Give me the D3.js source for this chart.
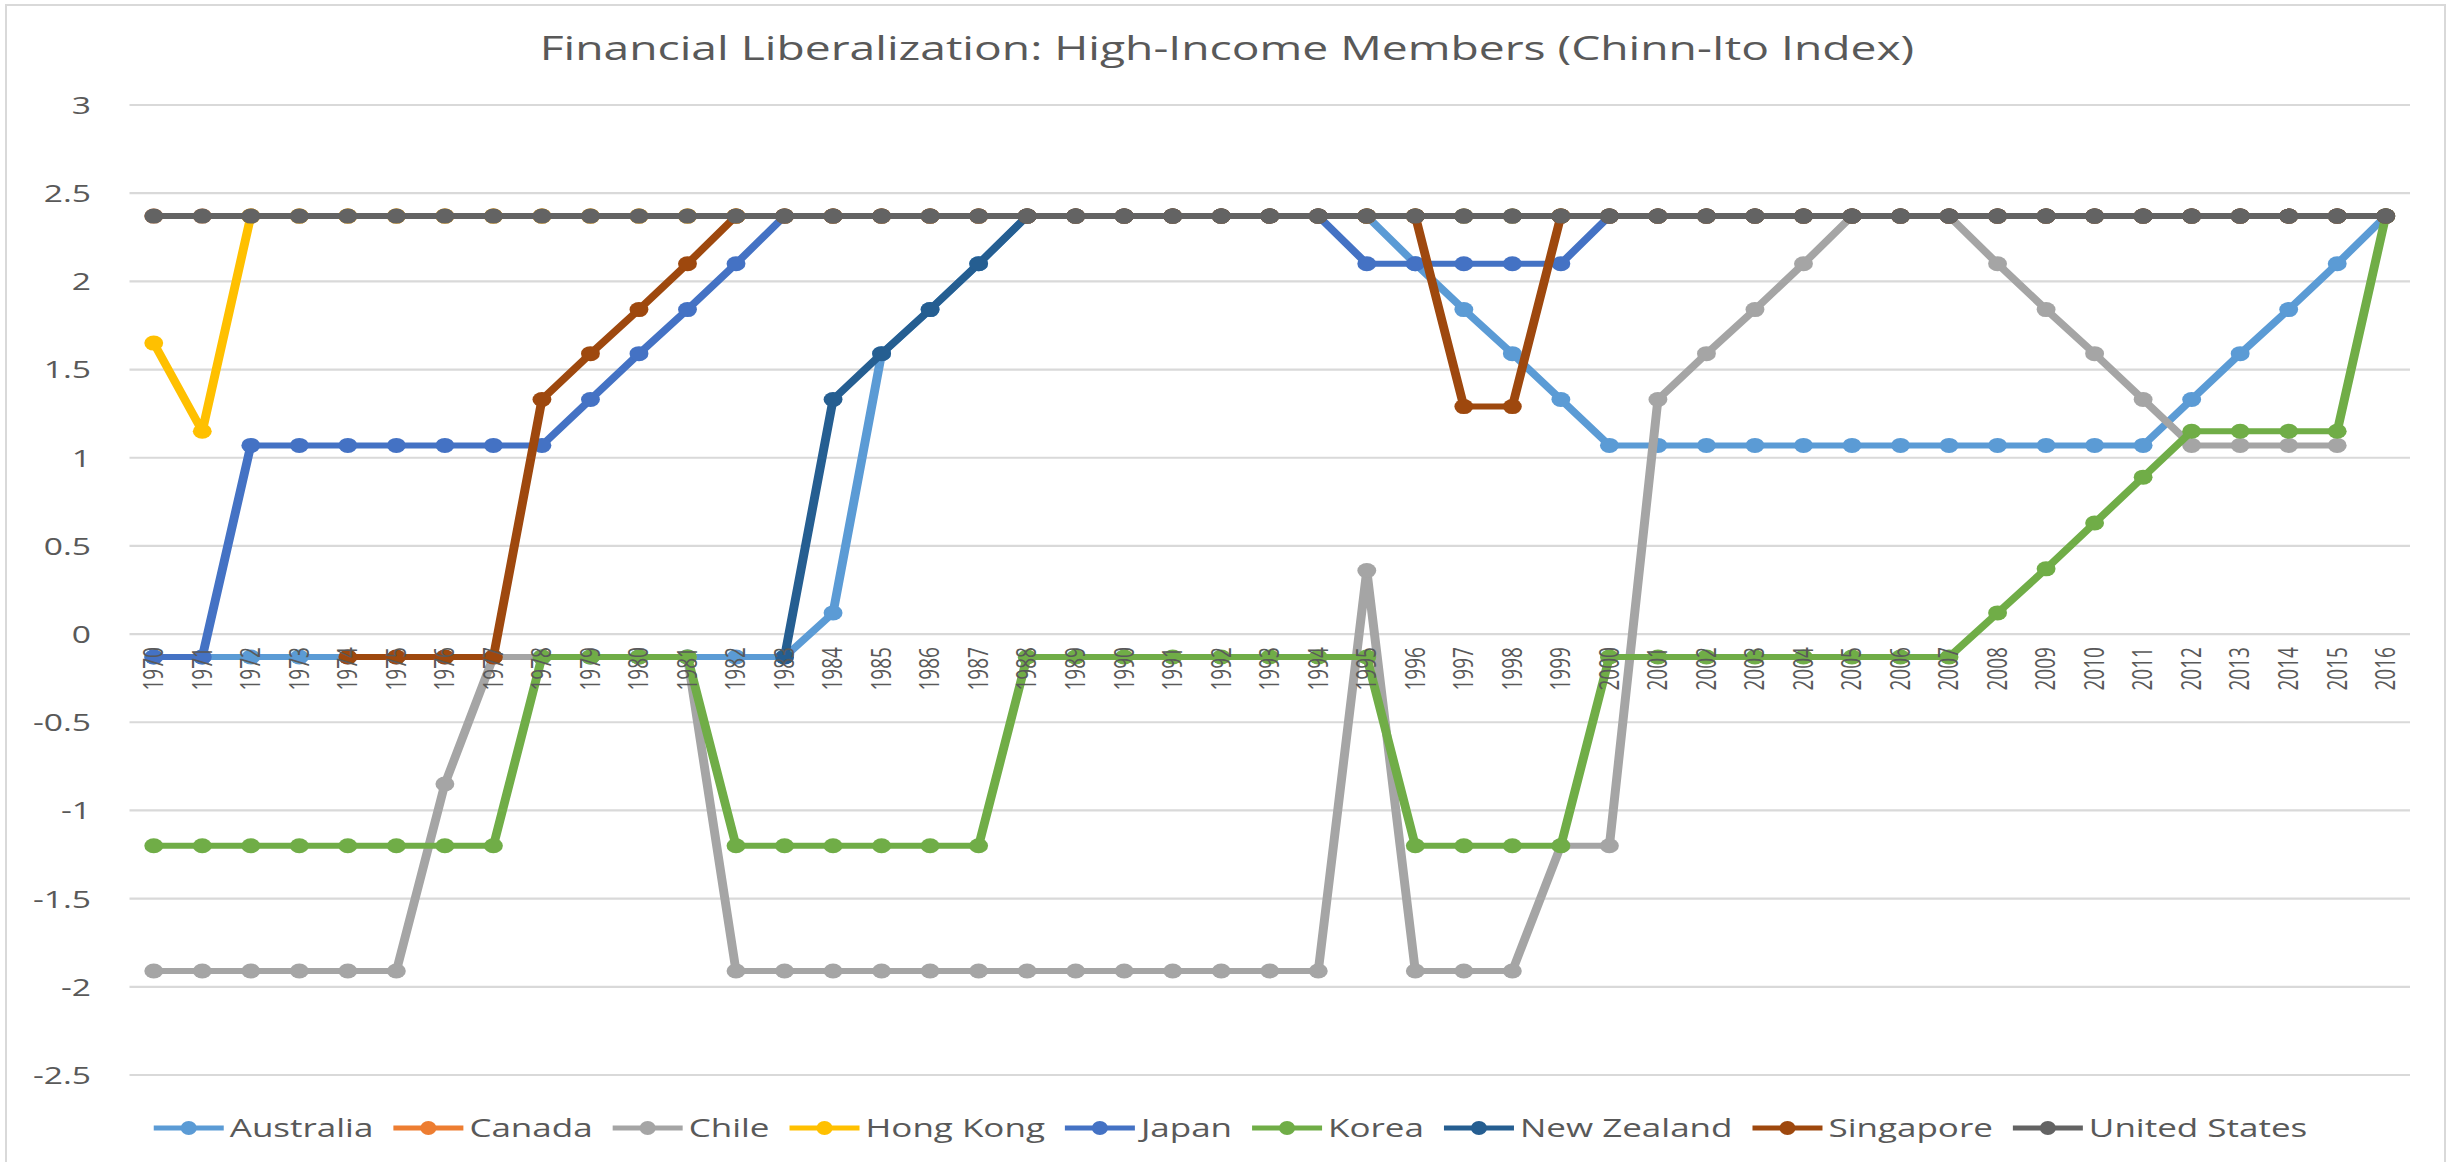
<!DOCTYPE html>
<html><head><meta charset="utf-8">
<script src="https://cdn.jsdelivr.net/npm/d3@7"></script>
<style>
body{margin:0;background:#fff}
svg{display:block}
text{font-family:"Open Sans",sans-serif;fill:#595959}
</style>
</head><body>
<svg id="chart" width="2460" height="1162"></svg>
<script>
// ---------------- DATA ----------------
const title = "Financial Liberalization: High-Income Members (Chinn-Ito Index)";
const years = ["1970","1971","1972","1973","1974","1975","1976","1977","1978","1979",
  "1980","1981","1982","1983","1984","1985","1986","1987","1988","1989",
  "1990","1991","1992","1993","1994","1995","1996","1997","1998","1999",
  "2000","2001","2002","2003","2004","2005","2006","2007","2008","2009",
  "2010","2011","2012","2013","2014","2015","2016"];
const yTicks = [3, 2.5, 2, 1.5, 1, 0.5, 0, -0.5, -1, -1.5, -2, -2.5];
const countries = ["Australia","Canada","Chile","Hong Kong","Japan","Korea","New Zealand","Singapore","United States"];
const colors = ["#5B9BD5","#ED7D31","#A5A5A5","#FFC000","#4472C4","#70AD47","#255E91","#9E480E","#636363"];

const australia = [-0.13,-0.13,-0.13,-0.13,-0.13,-0.13,-0.13,-0.13,-0.13,-0.13,
  -0.13,-0.13,-0.13,-0.13,0.12,1.59,1.84,2.10,2.37,2.37,
  2.37,2.37,2.37,2.37,2.37,2.37,2.10,1.84,1.59,1.33,
  1.07,1.07,1.07,1.07,1.07,1.07,1.07,1.07,1.07,1.07,
  1.07,1.07,1.33,1.59,1.84,2.10,2.37];
const canada = [2.37,2.37,2.37,2.37,2.37,2.37,2.37,2.37,2.37,2.37,
  2.37,2.37,2.37,2.37,2.37,2.37,2.37,2.37,2.37,2.37,
  2.37,2.37,2.37,2.37,2.37,2.37,2.37,2.37,2.37,2.37,
  2.37,2.37,2.37,2.37,2.37,2.37,2.37,2.37,2.37,2.37,
  2.37,2.37,2.37,2.37,2.37,2.37,2.37];
const chile = [-1.91,-1.91,-1.91,-1.91,-1.91,-1.91,-0.85,-0.13,-0.13,-0.13,
  -0.13,-0.13,-1.91,-1.91,-1.91,-1.91,-1.91,-1.91,-1.91,-1.91,
  -1.91,-1.91,-1.91,-1.91,-1.91,0.36,-1.91,-1.91,-1.91,-1.20,
  -1.20,1.33,1.59,1.84,2.10,2.37,2.37,2.37,2.10,1.84,
  1.59,1.33,1.07,1.07,1.07,1.07,null];
const hongKong = [1.65,1.15,2.37,2.37,2.37,2.37,2.37,2.37,2.37,2.37,
  2.37,2.37,2.37,2.37,2.37,2.37,2.37,2.37,2.37,2.37,
  2.37,2.37,2.37,2.37,2.37,2.37,2.37,2.37,2.37,2.37,
  2.37,2.37,2.37,2.37,2.37,2.37,2.37,2.37,2.37,2.37,
  2.37,2.37,2.37,2.37,2.37,2.37,2.37];
const japan = [-0.13,-0.13,1.07,1.07,1.07,1.07,1.07,1.07,1.07,1.33,
  1.59,1.84,2.10,2.37,2.37,2.37,2.37,2.37,2.37,2.37,
  2.37,2.37,2.37,2.37,2.37,2.10,2.10,2.10,2.10,2.10,
  2.37,2.37,2.37,2.37,2.37,2.37,2.37,2.37,2.37,2.37,
  2.37,2.37,2.37,2.37,2.37,2.37,2.37];
const korea = [-1.20,-1.20,-1.20,-1.20,-1.20,-1.20,-1.20,-1.20,-0.13,-0.13,
  -0.13,-0.13,-1.20,-1.20,-1.20,-1.20,-1.20,-1.20,-0.13,-0.13,
  -0.13,-0.13,-0.13,-0.13,-0.13,-0.13,-1.20,-1.20,-1.20,-1.20,
  -0.13,-0.13,-0.13,-0.13,-0.13,-0.13,-0.13,-0.13,0.12,0.37,
  0.63,0.89,1.15,1.15,1.15,1.15,2.37];
const newZealand = [null,null,null,null,null,null,null,null,null,null,
  null,null,null,-0.13,1.33,1.59,1.84,2.10,2.37,2.37,
  2.37,2.37,2.37,2.37,2.37,2.37,2.37,2.37,2.37,2.37,
  2.37,2.37,2.37,2.37,2.37,2.37,2.37,2.37,2.37,2.37,
  2.37,2.37,2.37,2.37,2.37,2.37,2.37];
const singapore = [null,null,null,null,-0.13,-0.13,-0.13,-0.13,1.33,1.59,
  1.84,2.10,2.37,2.37,2.37,2.37,2.37,2.37,2.37,2.37,
  2.37,2.37,2.37,2.37,2.37,2.37,2.37,1.29,1.29,2.37,
  2.37,2.37,2.37,2.37,2.37,2.37,2.37,2.37,2.37,2.37,
  2.37,2.37,2.37,2.37,2.37,2.37,2.37];
const unitedStates = [2.37,2.37,2.37,2.37,2.37,2.37,2.37,2.37,2.37,2.37,
  2.37,2.37,2.37,2.37,2.37,2.37,2.37,2.37,2.37,2.37,
  2.37,2.37,2.37,2.37,2.37,2.37,2.37,2.37,2.37,2.37,
  2.37,2.37,2.37,2.37,2.37,2.37,2.37,2.37,2.37,2.37,
  2.37,2.37,2.37,2.37,2.37,2.37,2.37];
const seriesValues = [australia, canada, chile, hongKong, japan, korea, newZealand, singapore, unitedStates];

// ---------------- LAYOUT ----------------
const plot = {left: 129.5, right: 2410, top: 105, bottom: 1075};
const SX = 1.5;          // horizontal stretch of the original picture (marks)
const TK = 1.4;          // horizontal stretch of text
const svg = d3.select("#chart");

svg.append("rect").attr("x", 6).attr("y", 5).attr("width", 2439).attr("height", 1180)
  .attr("fill", "#fff").attr("stroke", "#D9D9D9").attr("stroke-width", 2);

const x = d3.scaleBand().domain(years).range([plot.left, plot.right]).padding(0);
const xc = d => x(d) + x.bandwidth() / 2;
const y = d3.scaleLinear().domain([-2.5, 3]).range([plot.bottom, plot.top]);

// stretch text horizontally; returns the stretched width
function stretch(sel, k) {
  let last = 0;
  sel.each(function () {
    const w = this.getComputedTextLength();
    last = w * k;
    this.setAttribute("textLength", last);
    this.setAttribute("lengthAdjust", "spacingAndGlyphs");
  });
  return last;
}

// gridlines
svg.append("g").selectAll("line").data(yTicks).join("line")
  .attr("x1", plot.left).attr("x2", plot.right)
  .attr("y1", d => y(d)).attr("y2", d => y(d))
  .attr("stroke", "#D9D9D9").attr("stroke-width", 2.2);

// y axis labels
const yAxis = d3.axisLeft(y).tickValues(yTicks).tickSize(0).tickPadding(0)
  .tickFormat(d => String(d));
const yG = svg.append("g").attr("transform", `translate(${91},0)`).call(yAxis);
yG.select(".domain").remove();
yG.selectAll("text").attr("font-size", 24).attr("font-family", "Open Sans")
  .attr("fill", "#595959").attr("dy", "0.35em").attr("text-anchor", "end");
yG.selectAll("text").each(function () { stretch(d3.select(this), TK); });

// title
stretch(svg.append("text").attr("x", 1227).attr("y", 60).attr("text-anchor", "middle")
  .attr("font-size", 33).text(title), TK);

// series (drawn in a horizontally stretched group)
const marks = svg.append("g").attr("transform", `scale(${SX},1)`);
const line = d3.line().defined(d => d.v !== null).x(d => xc(d.year) / SX).y(d => y(d.v));
countries.forEach((c, i) => {
  const pts = years.map((yr, j) => ({year: yr, v: seriesValues[i][j]}));
  const g = marks.append("g");
  g.append("path").datum(pts).attr("d", line).attr("fill", "none")
    .attr("stroke", colors[i]).attr("stroke-width", 6).attr("stroke-linejoin", "round");
  g.selectAll("ellipse").data(pts.filter(d => d.v !== null)).join("ellipse")
    .attr("cx", d => xc(d.year) / SX).attr("cy", d => y(d.v))
    .attr("rx", 6.3).attr("ry", 7.5).attr("fill", colors[i]);
});

// category labels (rotated, drawn on top)
const zeroY = y(0);
svg.append("g").selectAll("text").data(years).join("text")
  .attr("transform", d => `translate(${xc(d)},${zeroY + 13}) scale(${TK},1) rotate(-90)`)
  .attr("text-anchor", "end").attr("dy", "0.35em").attr("font-size", 19).text(d => d);

// legend
const legY = 1128, lineW = 70, txtGap = 6, itemGap = 20;
const leg = svg.append("g");
const items = countries.map((c, i) => {
  const g = leg.append("g");
  g.append("line").attr("x1", 0).attr("x2", lineW).attr("y1", legY).attr("y2", legY)
    .attr("stroke", colors[i]).attr("stroke-width", 5);
  g.append("ellipse").attr("cx", lineW / 2).attr("cy", legY).attr("rx", 8).attr("ry", 7).attr("fill", colors[i]);
  const t = g.append("text").attr("x", lineW + txtGap).attr("y", legY).attr("dy", "0.35em")
    .attr("font-size", 25).text(c);
  const tw = stretch(t, TK);
  return {g, w: lineW + txtGap + tw};
});
const total = d3.sum(items, d => d.w) + itemGap * (items.length - 1);
let cx = 1230.5 - total / 2;
items.forEach(it => { it.g.attr("transform", `translate(${cx},0)`); cx += it.w + itemGap; });
</script>
</body></html>
